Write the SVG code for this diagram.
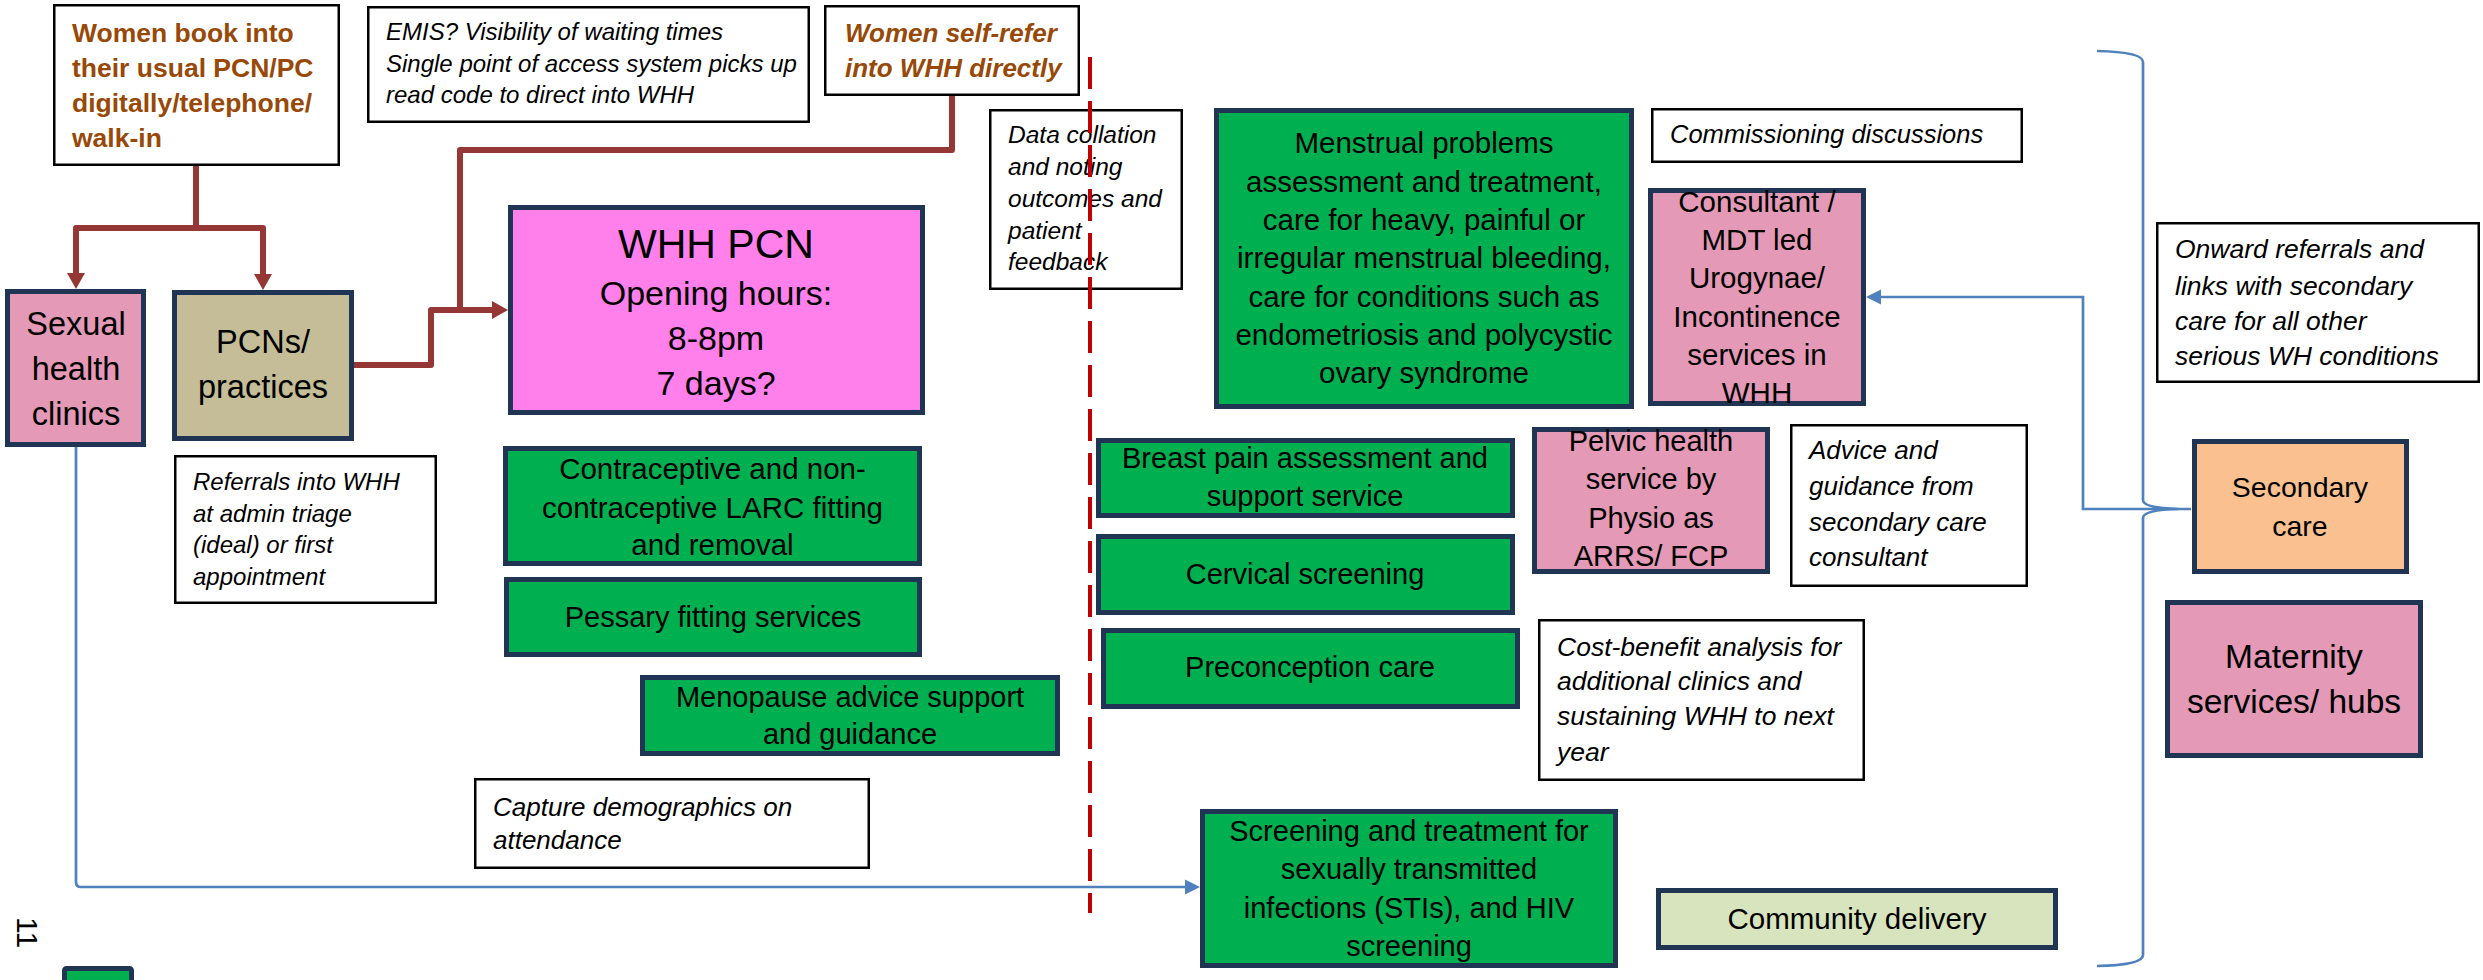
<svg xmlns="http://www.w3.org/2000/svg" width="2483" height="980" viewBox="0 0 2483 980">
<style>
.nv{stroke:#1F3553;stroke-width:5}
.g{fill:#00B050}
.pk{fill:#E499B6}
.tan{fill:#C4BD97}
.mag{fill:#FF80EB}
.or{fill:#FAC090}
.lg{fill:#D7E4BD}
.wb{fill:#FFFFFF;stroke:#000000;stroke-width:2.5}
.t{font-family:"Liberation Sans",Arial,sans-serif;fill:#000000;text-anchor:middle}
.it{font-family:"Liberation Sans",Arial,sans-serif;font-style:italic;fill:#000000}
.br{font-family:"Liberation Sans",Arial,sans-serif;font-weight:bold;fill:#984807}
.red{fill:none;stroke:#953735;stroke-width:6;stroke-linejoin:round}
.blue{fill:none;stroke:#4F81BD;stroke-width:2.7}
</style>
<defs>
<marker id="ar" markerUnits="userSpaceOnUse" viewBox="0 -10 16 20" markerWidth="16" markerHeight="20" refX="0" refY="0" orient="auto">
<path d="M0,-9 L16,0 L0,9 Z" fill="#953735"/>
</marker>
<marker id="ab" markerUnits="userSpaceOnUse" viewBox="0 -8 15 16" markerWidth="15" markerHeight="16" refX="0" refY="0" orient="auto">
<path d="M0,-7.5 L15,0 L0,7.5 Z" fill="#4F81BD"/>
</marker>
</defs>
<rect width="2483" height="980" fill="#FFFFFF"/>

<g id="connectors">
<path class="red" d="M196,166 V228 H76 V273" marker-end="url(#ar)"/>
<path class="red" d="M196,228 H263 V274" marker-end="url(#ar)"/>
<path class="red" d="M354,365 H431 V310 H492" marker-end="url(#ar)"/>
<path class="red" d="M952,96 V150 H460 V310"/>
<path class="blue" d="M76,447 V882 Q76,887 81,887 H1185" marker-end="url(#ab)"/>
<path class="blue" d="M2191,509 H2083 V297 H1881" marker-end="url(#ab)"/>
<path class="blue" d="M2097,51 Q2143,52 2143,62 V500 Q2143,508 2178,509 Q2143,510 2143,518 V955 Q2143,965 2097,966"/>
</g>

<g id="women-book">
<rect class="wb" x="54.25" y="5.25" width="284.5" height="159.5"/>
<text class="br" font-size="26.5" x="72" y="42">Women book into</text>
<text class="br" font-size="26.5" x="72" y="77">their usual PCN/PC</text>
<text class="br" font-size="26.5" x="72" y="112">digitally/telephone/</text>
<text class="br" font-size="26.5" x="72" y="147">walk-in</text>
</g>

<g id="emis">
<rect class="wb" x="368.25" y="7.25" width="440.5" height="114.5"/>
<text class="it" font-size="24" x="386" y="40">EMIS? Visibility of waiting times</text>
<text class="it" font-size="24" x="386" y="72">Single point of access system picks up</text>
<text class="it" font-size="24" x="386" y="103">read code to direct into WHH</text>
</g>

<g id="self-refer">
<rect class="wb" x="825.25" y="6.25" width="253.5" height="88.5"/>
<text class="br" font-size="26" font-style="italic" x="845" y="42">Women self-refer</text>
<text class="br" font-size="26" font-style="italic" x="845" y="77">into WHH directly</text>
</g>

<g id="sexual-health">
<rect class="nv pk" x="7.5" y="291.5" width="136" height="153"/>
<text class="t" font-size="32.5" x="76" y="335">Sexual</text>
<text class="t" font-size="32.5" x="76" y="380">health</text>
<text class="t" font-size="32.5" x="76" y="425">clinics</text>
</g>

<g id="pcns">
<rect class="nv tan" x="174.5" y="292.5" width="177" height="146"/>
<text class="t" font-size="32.5" x="263" y="353">PCNs/</text>
<text class="t" font-size="32.5" x="263" y="398">practices</text>
</g>

<g id="referrals">
<rect class="wb" x="175.25" y="456.25" width="260.5" height="146.5"/>
<text class="it" font-size="24" x="193" y="490">Referrals into WHH</text>
<text class="it" font-size="24" x="193" y="522">at admin triage</text>
<text class="it" font-size="24" x="193" y="553">(ideal) or first</text>
<text class="it" font-size="24" x="193" y="585">appointment</text>
</g>

<g id="whh-pcn">
<rect class="nv mag" x="510.5" y="207.5" width="412" height="205"/>
<text class="t" font-size="41" x="716" y="258">WHH PCN</text>
<text class="t" font-size="34" x="716" y="305">Opening hours:</text>
<text class="t" font-size="34" x="716" y="350">8-8pm</text>
<text class="t" font-size="34" x="716" y="395">7 days?</text>
</g>

<g id="contraceptive">
<rect class="nv g" x="505.5" y="448.5" width="414" height="115"/>
<text class="t" font-size="29.5" x="712.5" y="479">Contraceptive and non-</text>
<text class="t" font-size="29.5" x="712.5" y="518">contraceptive LARC fitting</text>
<text class="t" font-size="29.5" x="712.5" y="555">and removal</text>
</g>

<g id="pessary">
<rect class="nv g" x="506.5" y="579.5" width="413" height="75"/>
<text class="t" font-size="29" x="713" y="626.5">Pessary fitting services</text>
</g>

<g id="menopause">
<rect class="nv g" x="642.5" y="677.5" width="415" height="76"/>
<text class="t" font-size="29" x="850" y="707">Menopause advice support</text>
<text class="t" font-size="29" x="850" y="744">and guidance</text>
</g>

<g id="capture">
<rect class="wb" x="475.25" y="779.25" width="393.5" height="88.5"/>
<text class="it" font-size="26" x="493" y="816">Capture demographics on</text>
<text class="it" font-size="26" x="493" y="849">attendance</text>
</g>

<g id="data-collation">
<rect x="990.25" y="110.25" width="191.5" height="178.5" fill="none" stroke="#000000" stroke-width="2.5"/>
<text class="it" font-size="24.5" x="1008" y="143">Data collation</text>
<text class="it" font-size="24.5" x="1008" y="175">and noting</text>
<text class="it" font-size="24.5" x="1008" y="207">outcomes and</text>
<text class="it" font-size="24.5" x="1008" y="239">patient</text>
<text class="it" font-size="24.5" x="1008" y="270">feedback</text>
</g>

<g id="menstrual">
<rect class="nv g" x="1216.5" y="110.5" width="415" height="296"/>
<text class="t" font-size="29.5" x="1424" y="153">Menstrual problems</text>
<text class="t" font-size="29.5" x="1424" y="192">assessment and treatment,</text>
<text class="t" font-size="29.5" x="1424" y="230">care for heavy, painful or</text>
<text class="t" font-size="29.5" x="1424" y="268">irregular menstrual bleeding,</text>
<text class="t" font-size="29.5" x="1424" y="307">care for conditions such as</text>
<text class="t" font-size="29.5" x="1424" y="345">endometriosis and polycystic</text>
<text class="t" font-size="29.5" x="1424" y="383">ovary syndrome</text>
</g>

<g id="commissioning">
<rect class="wb" x="1652.25" y="109.25" width="369.5" height="52.5"/>
<text class="it" font-size="25.5" x="1670" y="143">Commissioning discussions</text>
</g>

<g id="consultant">
<rect class="nv pk" x="1650.5" y="190.5" width="213" height="213"/>
<text class="t" font-size="29.5" x="1757" y="212">Consultant /</text>
<text class="t" font-size="29.5" x="1757" y="250">MDT led</text>
<text class="t" font-size="29.5" x="1757" y="288">Urogynae/</text>
<text class="t" font-size="29.5" x="1757" y="327">Incontinence</text>
<text class="t" font-size="29.5" x="1757" y="365">services in</text>
<text class="t" font-size="29.5" x="1757" y="403">WHH</text>
</g>

<g id="onward">
<rect class="wb" x="2157.25" y="223.25" width="321.5" height="158.5"/>
<text class="it" font-size="26.5" x="2175" y="258">Onward referrals and</text>
<text class="it" font-size="26.5" x="2175" y="295">links with secondary</text>
<text class="it" font-size="26.5" x="2175" y="330">care for all other</text>
<text class="it" font-size="26.5" x="2175" y="365">serious WH conditions</text>
</g>

<g id="breast">
<rect class="nv g" x="1098.5" y="440.5" width="414" height="75"/>
<text class="t" font-size="29" x="1305" y="468">Breast pain assessment and</text>
<text class="t" font-size="29" x="1305" y="506">support service</text>
</g>

<g id="cervical">
<rect class="nv g" x="1098.5" y="536.5" width="414" height="76"/>
<text class="t" font-size="29" x="1305" y="584">Cervical screening</text>
</g>

<g id="preconception">
<rect class="nv g" x="1103.5" y="630.5" width="414" height="76"/>
<text class="t" font-size="29" x="1310" y="677">Preconception care</text>
</g>

<g id="pelvic">
<rect class="nv pk" x="1534.5" y="429.5" width="233" height="142"/>
<text class="t" font-size="29" x="1651" y="451">Pelvic health</text>
<text class="t" font-size="29" x="1651" y="489">service by</text>
<text class="t" font-size="29" x="1651" y="528">Physio as</text>
<text class="t" font-size="29" x="1651" y="566">ARRS/ FCP</text>
</g>

<g id="advice">
<rect class="wb" x="1791.25" y="425.25" width="235.5" height="160.5"/>
<text class="it" font-size="26" x="1809" y="459">Advice and</text>
<text class="it" font-size="26" x="1809" y="495">guidance from</text>
<text class="it" font-size="26" x="1809" y="531">secondary care</text>
<text class="it" font-size="26" x="1809" y="566">consultant</text>
</g>

<g id="cost-benefit">
<rect class="wb" x="1539.25" y="620.25" width="324.5" height="159.5"/>
<text class="it" font-size="26.5" x="1557" y="656">Cost-benefit analysis for</text>
<text class="it" font-size="26.5" x="1557" y="690">additional clinics and</text>
<text class="it" font-size="26.5" x="1557" y="725">sustaining WHH to next</text>
<text class="it" font-size="26.5" x="1557" y="761">year</text>
</g>

<g id="sti">
<rect class="nv g" x="1202.5" y="811.5" width="413" height="154"/>
<text class="t" font-size="29" x="1409" y="841">Screening and treatment for</text>
<text class="t" font-size="29" x="1409" y="879">sexually transmitted</text>
<text class="t" font-size="29" x="1409" y="918">infections (STIs), and HIV</text>
<text class="t" font-size="29" x="1409" y="956">screening</text>
</g>

<g id="community">
<rect class="nv lg" x="1658.5" y="890.5" width="397" height="57"/>
<text class="t" font-size="29.5" x="1857" y="929">Community delivery</text>
</g>

<g id="secondary">
<rect class="nv or" x="2194.5" y="441.5" width="212" height="130"/>
<text class="t" font-size="28.5" x="2300" y="497">Secondary</text>
<text class="t" font-size="28.5" x="2300" y="536">care</text>
</g>

<g id="maternity">
<rect class="nv pk" x="2167.5" y="602.5" width="253" height="153"/>
<text class="t" font-size="33.5" x="2294" y="668">Maternity</text>
<text class="t" font-size="33.5" x="2294" y="713">services/ hubs</text>
</g>

<g id="small-box">
<rect class="nv g" x="64.5" y="968.5" width="67" height="30" rx="2"/>
</g>

<g id="page-number">
<text font-family="Liberation Sans, Arial, sans-serif" font-size="30" fill="#000000" transform="translate(17,917) rotate(90)">11</text>
</g>

<g id="divider">
<line x1="1090" y1="57" x2="1090" y2="913" stroke="#C00000" stroke-width="4" stroke-dasharray="32 12"/>
</g>
</svg>
